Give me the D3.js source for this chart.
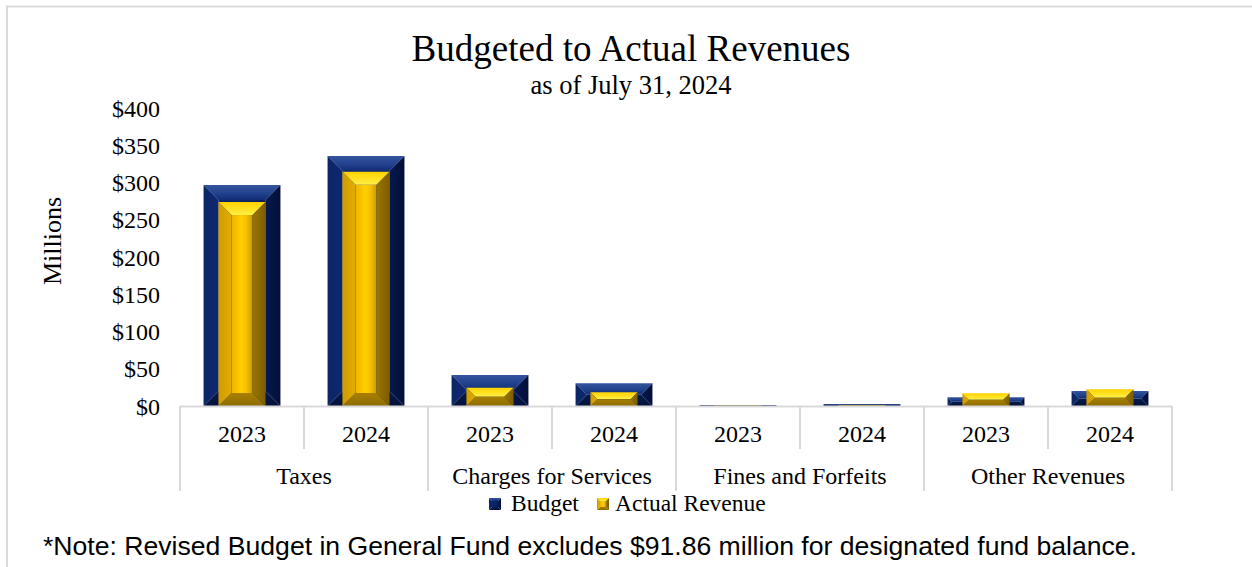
<!DOCTYPE html>
<html>
<head>
<meta charset="utf-8">
<script src="https://cdn.jsdelivr.net/npm/d3@7"></script>
<style>
  html, body { margin: 0; padding: 0; background: #ffffff; }
  svg { display: block; }
</style>
</head>
<body>
<svg id="chart" width="1252" height="567"></svg>
<script>
// Revenue groups and fiscal years
const groups = ["Taxes", "Charges for Services", "Fines and Forfeits", "Other Revenues"];
const years = ["2023", "2024"];
// Values in millions, one per group/year pair (Taxes 2023, Taxes 2024, ...)
const budget = [296.6, 335.6, 41.6, 30.5, 1.2, 2.5, 11.7, 20.1];
const actual = [273.8, 314.5, 24.6, 18.4, 0.6, 0.9, 17.0, 22.4];
const yTicks = [0, 50, 100, 150, 200, 250, 300, 350, 400];
const seriesNames = ["Budget", "Actual Revenue"];

const serif = "'Liberation Serif', 'Times New Roman', Times, serif";
const sans = "'Liberation Sans', Arial, Helvetica, sans-serif";

const svg = d3.select("#chart");
const W = 1252, H = 567;
const plot = { left: 180, right: 1172, top: 108, bottom: 406 };

// one row per bar slot
const rows = [];
groups.forEach((g, gi) => years.forEach((yr, yi) => {
  const i = gi * years.length + yi;
  rows.push({ id: g + "|" + yr, group: g, year: yr, budget: budget[i], actual: actual[i] });
}));

const x = d3.scaleBand().domain(rows.map(d => d.id)).range([plot.left, plot.right]).paddingInner(0).paddingOuter(0);
const y = d3.scaleLinear().domain([0, 400]).range([plot.bottom, plot.top]);

// ---------- gradients ----------
const defs = svg.append("defs");
function linGrad(id, x1, y1, x2, y2, stops) {
  const g = defs.append("linearGradient").attr("id", id)
    .attr("x1", x1).attr("y1", y1).attr("x2", x2).attr("y2", y2);
  stops.forEach(s => g.append("stop").attr("offset", s[0]).attr("stop-color", s[1]));
}
// Budget (navy)
linGrad("bTop", "0", "0", "0", "1", [["0", "#34549f"], ["0.55", "#22428e"], ["1", "#102c74"]]);
linGrad("bLeft", "0", "0", "1", "0", [["0", "#0c2566"], ["1", "#0d2870"]]);
linGrad("bRight", "0", "0", "1", "0", [["0", "#061a4f"], ["1", "#020f38"]]);
linGrad("bBot", "0", "0", "0", "1", [["0", "#061a4c"], ["1", "#04123b"]]);
linGrad("bFace", "0", "0", "1", "0", [["0", "#0c2566"], ["0.5", "#0b2468"], ["1", "#071c55"]]);
// Actual revenue (gold)
linGrad("aTop", "0", "0", "0", "1", [["0", "#ffd200"], ["0.6", "#ffe326"], ["1", "#fff048"]]);
linGrad("aLeft", "0", "0", "1", "0", [["0", "#d09c00"], ["1", "#e2ac00"]]);
linGrad("aRight", "0", "0", "1", "0", [["0", "#9c7600"], ["1", "#7c5c00"]]);
linGrad("aBot", "0", "0", "0", "1", [["0", "#a88000"], ["1", "#8e6c00"]]);
linGrad("aFace", "0", "0", "1", "0", [["0", "#eeb200"], ["0.45", "#ffcf00"], ["0.7", "#f6c200"], ["1", "#cc9a00"]]);

const navyFill = { top: "url(#bTop)", left: "url(#bLeft)", right: "url(#bRight)", bot: "url(#bBot)", face: "url(#bFace)", flat: "#0b2466" };
const goldFill = { top: "url(#aTop)", left: "url(#aLeft)", right: "url(#aRight)", bot: "url(#aBot)", face: "url(#aFace)", flat: "#e8b400" };

// Beveled rectangle drawn as four trapezoids around a face
function bevelBar(sel, x0, x1, yT, yB, bevel, fills) {
  const w = x1 - x0, h = yB - yT;
  const g = sel.append("g");
  if (h < 3) {
    g.append("rect").attr("x", x0).attr("y", yT).attr("width", w).attr("height", Math.max(h, 0.5))
      .attr("fill", fills.flat);
    return g;
  }
  const b = Math.min(bevel, w / 2, h / 2);
  const poly = pts => pts.map(p => p.join(",")).join(" ");
  g.append("rect").attr("x", x0 + b).attr("y", yT + b).attr("width", Math.max(w - 2 * b, 0))
    .attr("height", Math.max(h - 2 * b, 0)).attr("fill", fills.face);
  g.append("polygon").attr("points", poly([[x0, yT], [x1, yT], [x1 - b, yT + b], [x0 + b, yT + b]])).attr("fill", fills.top);
  g.append("polygon").attr("points", poly([[x0, yB], [x1, yB], [x1 - b, yB - b], [x0 + b, yB - b]])).attr("fill", fills.bot);
  g.append("polygon").attr("points", poly([[x0, yT], [x0 + b, yT + b], [x0 + b, yB - b], [x0, yB]])).attr("fill", fills.left);
  g.append("polygon").attr("points", poly([[x1, yT], [x1 - b, yT + b], [x1 - b, yB - b], [x1, yB]])).attr("fill", fills.right);
  g.selectAll("polygon,rect").attr("shape-rendering", "geometricPrecision");
  return g;
}

// ---------- frame (top and left edges of the chart area) ----------
svg.append("path").attr("d", `M7,${H} V6.5 H${W}`).attr("fill", "none")
  .attr("stroke", "#d9d9d9").attr("stroke-width", 2);

// ---------- titles ----------
svg.append("text").attr("x", 631).attr("y", 61).attr("text-anchor", "middle")
  .attr("font-family", serif).attr("font-size", 37).attr("fill", "#000").text("Budgeted to Actual Revenues");
svg.append("text").attr("x", 631).attr("y", 94).attr("text-anchor", "middle")
  .attr("font-family", serif).attr("font-size", 26.5).attr("fill", "#000").text("as of July 31, 2024");

// ---------- y axis ----------
const yAxis = d3.axisLeft(y).tickValues(yTicks).tickSize(0).tickPadding(20).tickFormat(d => "$" + d);
const yG = svg.append("g").attr("transform", `translate(${plot.left},0)`).call(yAxis);
yG.select(".domain").remove();
yG.selectAll("text").attr("font-family", serif).attr("font-size", 24).attr("fill", "#000").attr("dy", "0.34em");

svg.append("text").attr("transform", "translate(61,241) rotate(-90)").attr("text-anchor", "middle")
  .attr("font-family", serif).attr("font-size", 26).attr("fill", "#000").text("Millions");

// ---------- bars ----------
const bw = x.bandwidth();
const budgetW = bw * 0.62, actualW = bw * 0.38;
const barsG = svg.append("g");
rows.forEach(d => {
  const cx = x(d.id) + bw / 2;
  bevelBar(barsG, cx - budgetW / 2, cx + budgetW / 2, y(d.budget), y(0), 15, navyFill);
  bevelBar(barsG, cx - actualW / 2, cx + actualW / 2, y(d.actual), y(0), 13, goldFill);
});

// ---------- category axis (two levels) ----------
const axisColor = "#d9d9d9";
const axG = svg.append("g");
axG.append("line").attr("x1", plot.left).attr("x2", plot.right).attr("y1", plot.bottom + 0.5).attr("y2", plot.bottom + 0.5)
  .attr("stroke", axisColor).attr("stroke-width", 2);
// inner dividers between years
rows.forEach((d, i) => {
  if (i % years.length !== 0) {
    axG.append("line").attr("x1", x(d.id)).attr("x2", x(d.id)).attr("y1", plot.bottom).attr("y2", 449)
      .attr("stroke", axisColor).attr("stroke-width", 2);
  }
});
// group dividers
const groupEdges = groups.map((g, gi) => x(rows[gi * years.length].id)).concat([plot.right]);
groupEdges.forEach(gx => {
  axG.append("line").attr("x1", gx).attr("x2", gx).attr("y1", plot.bottom).attr("y2", 491)
    .attr("stroke", axisColor).attr("stroke-width", 2);
});
// year labels
axG.selectAll("text.yr").data(rows).enter().append("text").attr("class", "yr")
  .attr("x", d => x(d.id) + bw / 2).attr("y", 442).attr("text-anchor", "middle")
  .attr("font-family", serif).attr("font-size", 24).attr("fill", "#000").text(d => d.year);
// group labels
axG.selectAll("text.grp").data(groups).enter().append("text").attr("class", "grp")
  .attr("x", (g, gi) => (groupEdges[gi] + groupEdges[gi + 1]) / 2).attr("y", 484).attr("text-anchor", "middle")
  .attr("font-family", serif).attr("font-size", 24).attr("fill", "#000").text(g => g);

// ---------- legend ----------
const legG = svg.append("g");
const legItems = [
  { name: seriesNames[0], x: 489, textX: 511, fills: navyFill },
  { name: seriesNames[1], x: 597, textX: 615, fills: goldFill }
];
legItems.forEach(it => {
  bevelBar(legG, it.x, it.x + 12, 498, 510, 3, it.fills);
  legG.append("text").attr("x", it.textX).attr("y", 511).attr("font-family", serif)
    .attr("font-size", 23.5).attr("fill", "#000").text(it.name);
});

// ---------- footnote ----------
svg.append("text").attr("x", 43).attr("y", 555).attr("font-family", sans).attr("font-size", 26.6)
  .attr("fill", "#000").text("*Note: Revised Budget in General Fund excludes $91.86 million for designated fund balance.");
</script>
</body>
</html>
